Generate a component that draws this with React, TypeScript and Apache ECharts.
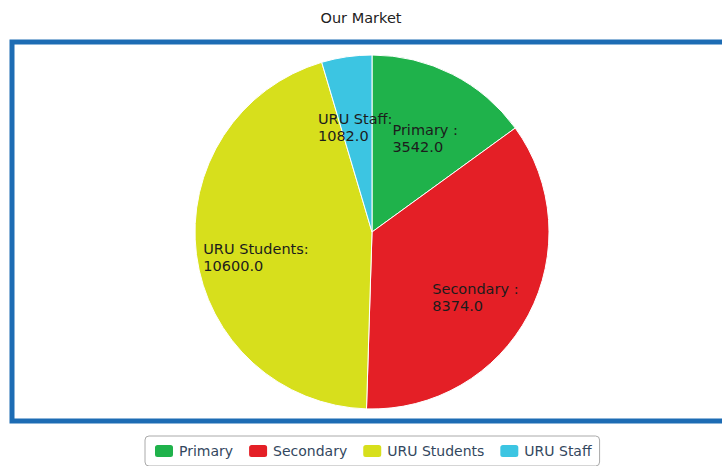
import React, { useEffect, useRef } from "react";
import * as echarts from "echarts";

const categories = ["Primary", "Secondary", "URU Students", "URU Staff"];
const sliceLabels = ["Primary :", "Secondary :", "URU Students:", "URU Staff:"];
const values = [3542, 8374, 10600, 1082];
const colors = ["#1fb24b", "#e41f26", "#d7df1c", "#3cc5e2"];

export default function App() {
  const ref = useRef<HTMLDivElement>(null);
  useEffect(() => {
    if (!ref.current) return;
    const chart = echarts.init(ref.current, undefined, { renderer: "svg" });
    const data = categories.map((c, i) => ({ name: c, value: values[i] }));
    chart.setOption({
      animation: false,
      color: colors,
      title: {
        text: "Our Market",
        left: "center",
        top: 10,
        padding: 0,
        textStyle: { fontSize: 14.5, fontWeight: "normal", color: "#222", fontFamily: "DejaVu Sans" },
      },
      graphic: [
        {
          type: "rect",
          shape: { x: 12, y: 42, width: 730, height: 379 },
          style: { fill: "none", stroke: "#1d6cb4", lineWidth: 5 },
          z: -1,
        },
      ],
      legend: {
        data: categories,
        left: 145,
        top: 436,
        icon: "roundRect",
        itemWidth: 20,
        itemHeight: 14,
        itemGap: 14,
        padding: [7, 8, 7, 8],
        borderColor: "#aaa",
        borderWidth: 1,
        borderRadius: 4,
        textStyle: { fontSize: 14, color: "#33475e", fontFamily: "DejaVu Sans" },
      },
      series: [
        {
          type: "pie",
          center: [372, 232],
          radius: [0, 177],
          startAngle: 90,
          clockwise: true,
          data,
          label: { show: false },
          labelLine: { show: false },
          itemStyle: { borderColor: "#fff", borderWidth: 1 },
          emphasis: { disabled: true },
        },
        {
          type: "pie",
          center: [372, 232],
          radius: [0, 228],
          startAngle: 90,
          clockwise: true,
          silent: true,
          data,
          itemStyle: { color: "transparent", borderWidth: 0 },
          labelLine: { show: false },
          emphasis: { disabled: true },
          labelLayout: { dy: 11 },
          label: {
            show: true,
            position: "inner",
            formatter: (p: any) =>
              `{n|${sliceLabels[p.dataIndex]}}\n{n|${Number(p.value).toFixed(1)}}`,
            rich: {
              n: { align: "left", fontSize: 14.5, lineHeight: 17, color: "#1c1c1c", fontFamily: "DejaVu Sans" },
            },
          },
        },
      ],
    });
    return () => chart.dispose();
  }, []);
  return (
    <div
      ref={ref}
      style={{ position: "fixed", left: 0, top: 0, width: 722, height: 466, background: "#fff" }}
    />
  );
}
